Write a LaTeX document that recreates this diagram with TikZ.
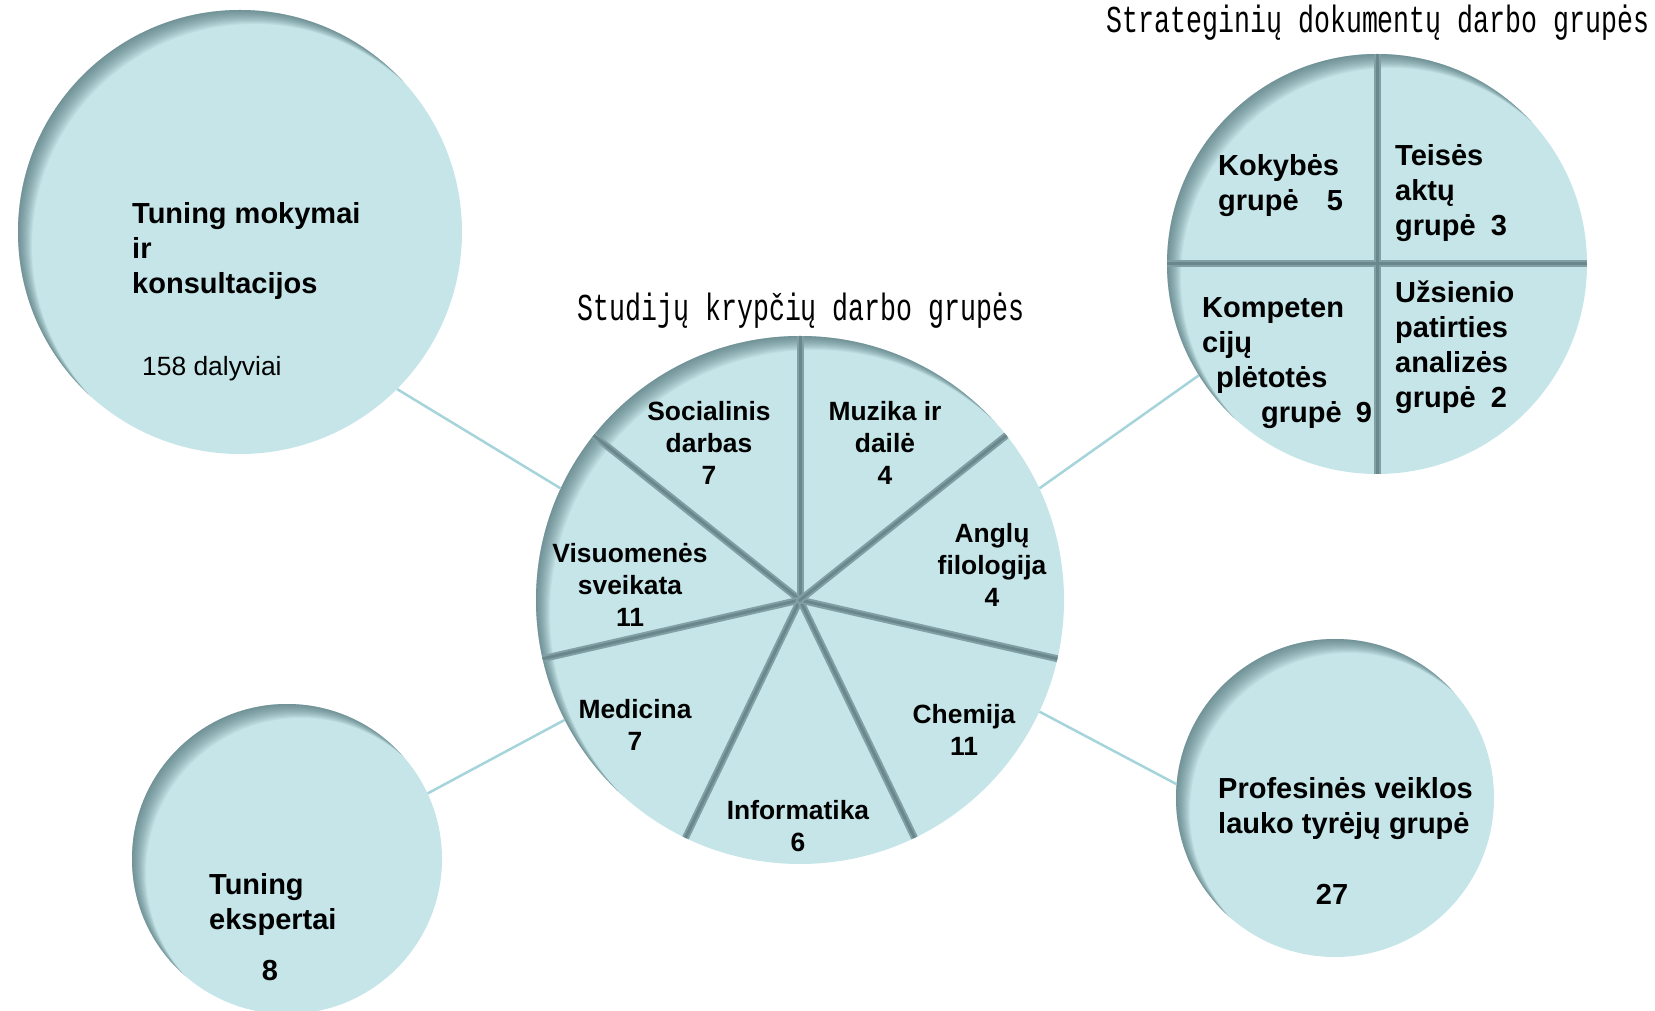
\documentclass[tikz,border=0pt]{standalone}
\usepackage{fontspec}
\setmainfont{Liberation Sans}
\newfontfamily\titlefont[FakeStretch=0.7]{Liberation Mono}

\definecolor{bubblefill}{RGB}{197,229,232}
\definecolor{rimshadow}{RGB}{70,105,110}
\definecolor{spokec}{RGB}{130,160,164}
\definecolor{spokecore}{RGB}{105,135,140}
\definecolor{linkc}{RGB}{165,212,218}

\tikzset{
  bubble/.style={circle, fill=bubblefill, inner sep=0pt},
  spoke/.style={draw=spokec, line width=7pt},
  spokeline/.style={draw=spokecore, line width=3pt},
  link/.style={draw=linkc, line width=2.5pt},
  sector/.style={font=\bfseries\fontsize{26.4}{31.7}\selectfont, align=center, inner sep=0pt},
  group/.style={font=\bfseries\fontsize{29}{35}\selectfont, align=left, anchor=north west, inner sep=0pt},
  num/.style={font=\bfseries\fontsize{29}{35}\selectfont, inner sep=0pt},
  heading/.style={font=\titlefont\fontsize{38}{44}\selectfont, anchor=base, inner sep=0pt},
}

\begin{document}
\begin{tikzpicture}[x=1pt,y=1pt]
\useasboundingbox (0,0) rectangle (1655,1010);

% circles
\node[bubble, minimum size=444pt] (tl) at (240,778) {};
\node[bubble, minimum size=310pt] (bl) at (287,151) {};
\node[bubble, minimum size=318pt] (br) at (1335,212) {};
\node[bubble, minimum size=528pt] (pie) at (800,410) {};
\node[bubble, minimum size=420pt] (rp) at (1377,746) {};

% shadow along the upper left rim
\foreach \bub/\rad in {tl/222,bl/155,br/159,pie/264,rp/210}{
  \begin{scope}
    \clip (\bub.center) circle [radius=\rad pt];
    \foreach \d in {1,...,14}
      \fill[rimshadow, opacity=0.065, even odd rule] (\bub.center) circle [radius=\rad pt+40pt]
        ([shift={(\d,-\d)}]\bub.center) circle [radius=\rad pt];
  \end{scope}
}

% sector lines
\foreach \k in {0,...,6}{
  \draw[spoke] (pie.center) -- ++({90+\k*360/7}:264);
  \draw[spokeline] (pie.center) -- ++({90+\k*360/7}:264);
}
\draw[spoke] (rp.north) -- (rp.south);
\draw[spoke] (rp.west) -- (rp.east);
\draw[spokeline] (rp.north) -- (rp.south);
\draw[spokeline] (rp.west) -- (rp.east);

% headings
\node[heading] (studt) at (801,689) {Studijų krypčių darbo grupės};
\node[heading] (strt) at (1378,977) {Strateginių dokumentų darbo grupės};

% study field groups
\node[sector] (soc) at (709,567) {Socialinis\\darbas\\7};
\node[sector] (muz) at (885,567) {Muzika ir\\dailė\\4};
\node[sector] (ang) at (992,445) {Anglų\\filologija\\4};
\node[sector] (vis) at (630,425) {Visuomenės\\sveikata\\11};
\node[sector] (med) at (635,285) {Medicina\\7};
\node[sector] (inf) at (798,184) {Informatika\\6};
\node[sector] (che) at (964,280) {Chemija\\11};

% strategic document groups
\node[group] (kok) at (1218,856) {Kokybės\\grupė\hspace{28pt}5};
\node[group] (tei) at (1395,866) {Teisės\\aktų\\grupė\hspace{15pt}3};
\node[group] (kom) at (1202,713) {Kompeten\\cijų\\\hspace*{14pt}plėtotės\\\hspace*{59pt}grupė\hspace{14pt}9};
\node[group] (uzs) at (1395,729) {Užsienio\\patirties\\analizės\\grupė\hspace{15pt}2};

% outer circles
\node[group] (tun) at (132,808) {Tuning mokymai\\ir\\konsultacijos};
\node[anchor=base west, font=\fontsize{26.4}{31.7}\selectfont, inner sep=0pt] (dal) at (142,634) {158 dalyviai};
\node[group] (eks) at (209,137) {Tuning\\ekspertai};
\node[num] (eksn) at (270,39) {8};
\node[group] (prof) at (1218,233) {Profesinės veiklos\\lauko tyrėjų grupė};
\node[num] (profn) at (1332,116) {27};

% connectors
\draw[link] (tl.315) -- (pie.155);
\draw[link] (bl.25) -- (pie.207);
\draw[link] (pie.25) -- (rp.212);
\draw[link] (pie.335) -- (br.175);
\end{tikzpicture}
\end{document}
